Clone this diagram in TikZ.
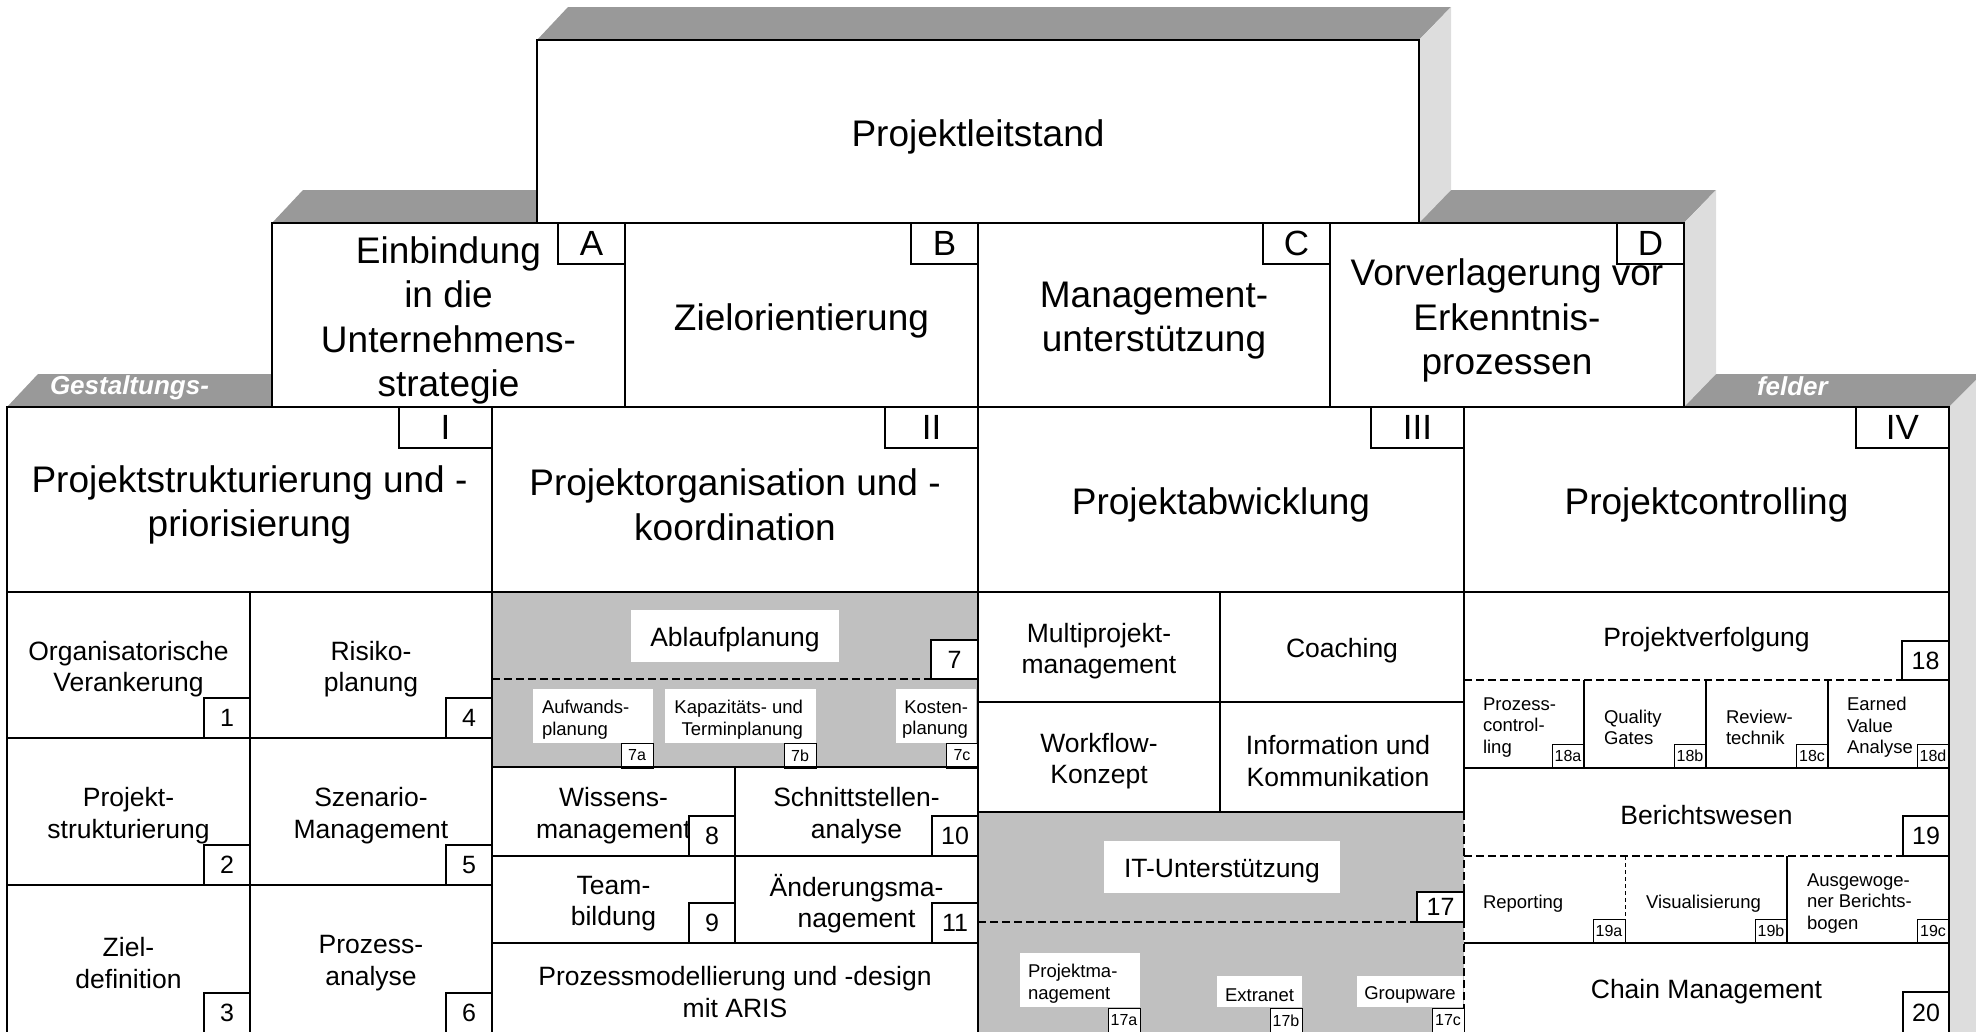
\documentclass[tikz,border=0pt]{standalone}
\usepackage{fontspec}
\setmainfont{Liberation Sans}
\definecolor{topgray}{HTML}{999999}
\definecolor{sidegray}{HTML}{DDDDDD}
\definecolor{cellgray}{HTML}{C0C0C0}
\tikzset{
  every node/.style={inner sep=0pt, outer sep=0pt},
  big/.style={align=center, yshift=-5.5pt, font=\fontsize{37}{44.5}\selectfont},
  mid/.style={align=center, yshift=-4pt, font=\fontsize{26.5}{31.5}\selectfont},
  sml/.style={yshift=-3.5pt, font=\fontsize{18.5}{21.5}\selectfont},
  bartext/.style={text=white, font=\fontsize{26}{26}\selectfont\bfseries\itshape},
  letlbl/.style={draw, fill=white, line width=1.3pt, minimum width=67, minimum height=41, font=\fontsize{35}{35}\selectfont, anchor=north east},
  romlbl/.style={draw, fill=white, line width=1.3pt, minimum width=93, minimum height=41, font=\fontsize{35}{35}\selectfont, anchor=north east},
  numlbl/.style={draw, fill=white, line width=1.3pt, minimum width=46, minimum height=40, font=\fontsize{25}{25}\selectfont, anchor=south east},
  smlbl/.style={draw, fill=white, line width=1pt, minimum width=32, minimum height=25, font=\fontsize{16}{16}\selectfont, anchor=south east},
  wbox/.style={fill=white},
  frame/.style={line width=2pt},
  dsh/.style={line width=2pt, dash pattern=on 8pt off 4pt},
  thindsh/.style={line width=1pt, dash pattern=on 4pt off 3pt}
}
\begin{document}
\begin{tikzpicture}[x=1pt,y=-1pt]
\useasboundingbox (0,0) rectangle (1976,1031);
\clip (0,0) rectangle (1976,1031);
% ---------- 3D faces (back to front)
\fill[topgray] (7,407) -- (1949,407) -- (1982,374) -- (38,374) -- cycle;
\fill[sidegray] (1949,407) -- (1982,374) -- (1982,1040) -- (1949,1040) -- cycle;
\fill[topgray] (272,223) -- (1684,223) -- (1716,190) -- (303,190) -- cycle;
\fill[sidegray] (1684,223) -- (1716,190) -- (1716,374) -- (1684,407) -- cycle;
\fill[topgray] (537,40) -- (1419,40) -- (1451,7) -- (568,7) -- cycle;
\fill[sidegray] (1419,40) -- (1451,7) -- (1451,190) -- (1419,223) -- cycle;
\node[bartext, anchor=base west] (gest) at (50,394) {Gestaltungs-};
\node[bartext, anchor=base west] (feld) at (1757,395) {felder};
% ---------- front fills
\fill[white] (537,40) rectangle (1419,223);
\fill[white] (272,223) rectangle (1684,407);
\fill[white] (7,407) rectangle (1949,1040);
\fill[cellgray] (492,592) rectangle (978,767);
\fill[cellgray] (978,812) rectangle (1464,1040);
% ---------- white inner boxes
\node[wbox, minimum width=208, minimum height=52] (ablaufbox) at (735,636) {};
\node[mid] (ablauf) at (735,636) {Ablaufplanung};
\node[wbox, minimum width=120, minimum height=54] (aufwbox) at (593,716) {};
\node[sml, align=left, anchor=west] (aufw) at (542,716) {Aufwands-\\planung};
\node[wbox, minimum width=151, minimum height=54] (kapazbox) at (740.5,716) {};
\node[sml, align=right, anchor=east] (kapaz) at (803,716) {Kapazitäts- und\\Terminplanung};
\node[wbox, minimum width=80, minimum height=54] (kostenbox) at (936,716) {};
\node[sml, align=right, anchor=east] (kosten) at (968,716) {Kosten-\\planung};
\node[wbox, minimum width=236, minimum height=52] (itubox) at (1222,867) {};
\node[mid] (itu) at (1222,867) {IT-Unterstützung};
\node[wbox, minimum width=120, minimum height=54] (pmbox) at (1080,980) {};
\node[sml, align=left, anchor=west] (pmgmt) at (1028,980) {Projektma-\\nagement};
\node[wbox, minimum width=85, minimum height=31] (extrbox) at (1259.5,991.5) {};
\node[sml] (extr) at (1259.5,991.5) {Extranet};
\node[wbox, minimum width=106, minimum height=31] (grpwbox) at (1410,991.5) {};
\node[sml] (grpw) at (1410,991.5) {Groupware};
% ---------- texts
\node[big] (pl) at (978,131) {Projektleitstand};
\node[big] (einb) at (448.5,315) {Einbindung\\in die\\Unternehmens-\\strategie};
\node[big] (ziel) at (801.5,315) {Zielorientierung};
\node[big] (mgmt) at (1154,315) {Management-\\unterstützung};
\node[big] (vorv) at (1507,315) {Vorverlagerung vor\\Erkenntnis-\\prozessen};
\node[big] (h1) at (249.5,499.5) {Projektstrukturierung und -\\priorisierung};
\node[big] (h2) at (735,499.5) {Projektorganisation und -\\koordination};
\node[big] (h3) at (1221,499.5) {Projektabwicklung};
\node[big] (h4) at (1706.5,499.5) {Projektcontrolling};
\node[mid] (c1) at (128.5,665) {Organisatorische\\Verankerung};
\node[mid] (c4) at (371,665) {Risiko-\\planung};
\node[mid] (c2) at (128.5,811.5) {Projekt-\\strukturierung};
\node[mid] (c5) at (371,811.5) {Szenario-\\Management};
\node[mid] (c3) at (128.5,959) {Ziel-\\definition};
\node[mid] (c6) at (371,959) {Prozess-\\analyse};
\node[mid] (c8) at (613.5,811.5) {Wissens-\\management};
\node[mid] (c10) at (856.5,811.5) {Schnittstellen-\\analyse};
\node[mid] (c9) at (613.5,899.5) {Team-\\bildung};
\node[mid] (c11) at (856.5,899.5) {Änderungsma-\\nagement};
\node[mid] (cproz) at (735,988) {Prozessmodellierung und -design\\mit ARIS};
\node[mid] (cmulti) at (1099,647) {Multiprojekt-\\management};
\node[mid] (ccoach) at (1342,647) {Coaching};
\node[mid] (cwork) at (1099,757) {Workflow-\\Konzept};
\node[mid] (cinfo) at (1338,757) {Information und\\Kommunikation};
\node[mid] (pverf) at (1706.5,636) {Projektverfolgung};
\node[sml, align=left, anchor=west] (t18a) at (1483,724) {Prozess-\\control-\\ling};
\node[sml, align=left, anchor=west] (t18b) at (1604,724) {Quality\\Gates};
\node[sml, align=left, anchor=west] (t18c) at (1726,724) {Review-\\technik};
\node[sml, align=left, anchor=west] (t18d) at (1847,724) {Earned\\Value\\Analyse};
\node[mid] (bw) at (1706.5,811.5) {Berichtswesen};
\node[sml, align=left, anchor=west] (t19a) at (1483,900) {Reporting};
\node[sml, align=left, anchor=west] (t19b) at (1646,900) {Visualisierung};
\node[sml, align=left, anchor=west] (t19c) at (1807,900) {Ausgewoge-\\ner Berichts-\\bogen};
\node[mid] (chain) at (1706.5,988) {Chain Management};
% ---------- dashed lines
\draw[dsh] (492,679) -- (978,679);
\draw[dsh] (978,922) -- (1464,922);
\draw[dsh] (1464,812) -- (1464,1040);
\draw[dsh] (1464,680) -- (1949,680);
\draw[dsh] (1464,856) -- (1949,856);
\draw[thindsh] (1625,856) -- (1625,943);
% ---------- labels
\node[letlbl] (lA) at (625,223) {A};
\node[letlbl] (lB) at (978,223) {B};
\node[letlbl] (lC) at (1330,223) {C};
\node[letlbl] (lD) at (1684,223) {D};
\node[romlbl] (lI) at (492,407) {I};
\node[romlbl] (lII) at (978,407) {II};
\node[romlbl] (lIII) at (1464,407) {III};
\node[romlbl] (lIV) at (1949,407) {IV};
\node[numlbl] (n1) at (250,738) {1};
\node[numlbl] (n4) at (492,738) {4};
\node[numlbl] (n2) at (250,885) {2};
\node[numlbl] (n5) at (492,885) {5};
\node[numlbl] (n3) at (250,1033) {3};
\node[numlbl] (n6) at (492,1033) {6};
\node[numlbl, minimum width=47, minimum height=39] (n7) at (978,679) {7};
\node[numlbl] (n8) at (735,856) {8};
\node[numlbl] (n10) at (978,856) {10};
\node[numlbl] (n9) at (735,943) {9};
\node[numlbl] (n11) at (978,943) {11};
\node[numlbl, minimum width=47, minimum height=30] (n17) at (1464,922) {17};
\node[numlbl, minimum width=47, minimum height=39] (n18) at (1949,680) {18};
\node[numlbl] (n19) at (1949,856) {19};
\node[numlbl, minimum height=41] (n20) at (1949,1033) {20};
\node[smlbl] (n7a) at (653,768) {7a};
\node[smlbl] (n7b) at (816,768) {7b};
\node[smlbl] (n7c) at (978,768) {7c};
\node[smlbl] (n17a) at (1140,1033) {17a};
\node[smlbl] (n17b) at (1302,1033) {17b};
\node[smlbl] (n17c) at (1464,1033) {17c};
\node[smlbl, minimum height=24] (n18a) at (1584,768) {18a};
\node[smlbl, minimum height=24] (n18b) at (1706,768) {18b};
\node[smlbl, minimum height=24] (n18c) at (1828,768) {18c};
\node[smlbl, minimum height=24] (n18d) at (1949,768) {18d};
\node[smlbl, minimum height=24] (n19a) at (1625,943) {19a};
\node[smlbl, minimum height=24] (n19b) at (1787,943) {19b};
\node[smlbl, minimum height=24] (n19c) at (1949,943) {19c};
% ---------- solid lines
\draw[frame] (537,40) rectangle (1419,223);
\draw[frame] (272,223) rectangle (1684,407);
\draw[frame] (625,223) -- (625,407) (978,223) -- (978,407) (1330,223) -- (1330,407);
\draw[frame] (7,1040) -- (7,407) -- (1949,407) -- (1949,1040);
\draw[frame] (7,592) -- (1949,592);
\draw[frame] (492,407) -- (492,1040) (978,407) -- (978,1040) (1464,407) -- (1464,812);
\draw[frame] (250,592) -- (250,1040) (7,738) -- (492,738) (7,885) -- (492,885);
\draw[frame] (492,767) -- (978,767) (492,856) -- (978,856) (492,943) -- (978,943) (735,767) -- (735,943);
\draw[frame] (1220,592) -- (1220,812) (978,702) -- (1464,702) (978,812) -- (1464,812);
\draw[frame] (1464,768) -- (1949,768) (1464,943) -- (1949,943);
\draw[frame] (1584,680) -- (1584,768) (1706,680) -- (1706,768) (1828,680) -- (1828,768);
\draw[frame] (1787,856) -- (1787,943);
\end{tikzpicture}
\end{document}
